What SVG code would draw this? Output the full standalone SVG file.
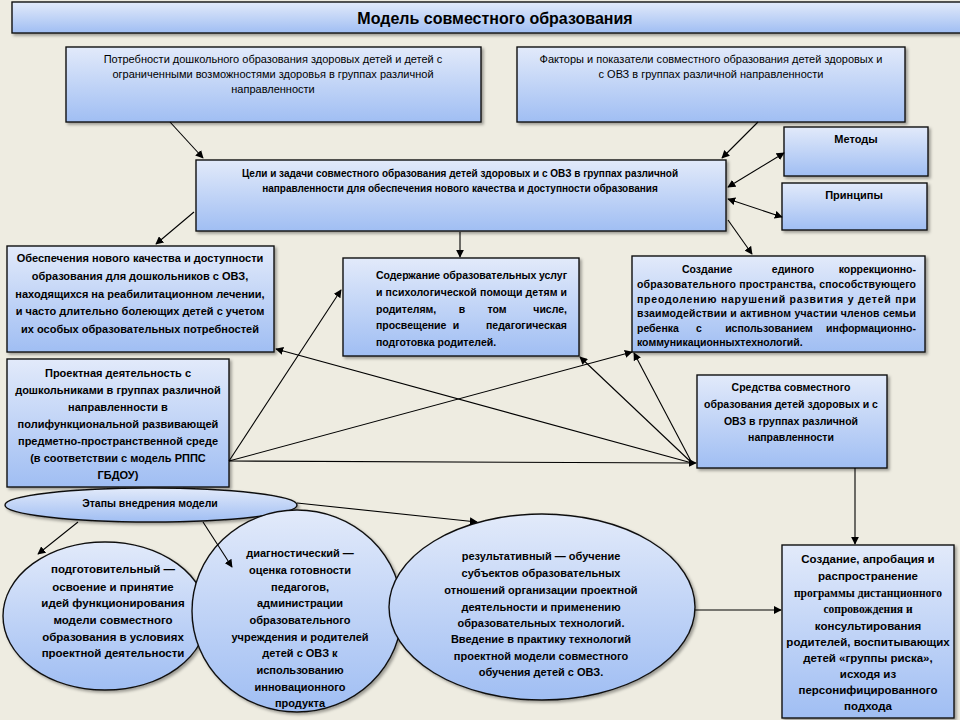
<svg xmlns="http://www.w3.org/2000/svg" width="960" height="720" viewBox="0 0 960 720">
<defs>
<linearGradient id="g" x1="0" y1="0" x2="0" y2="1">
<stop offset="0" stop-color="#e2eafa"/>
<stop offset="1" stop-color="#a0bef3"/>
</linearGradient>
<filter id="sh" x="-10%" y="-10%" width="130%" height="130%">
<feDropShadow dx="2" dy="2" stdDeviation="1.5" flood-color="#000" flood-opacity="0.35"/>
</filter>
<marker id="ah" viewBox="0 0 10 10" refX="9" refY="5" markerWidth="8" markerHeight="8" markerUnits="userSpaceOnUse" orient="auto-start-reverse">
<path d="M0,0 L10,5 L0,10 z" fill="#000"/>
</marker>
<style>
.bx{fill:url(#g);stroke:#111;stroke-width:1.4;filter:url(#sh)}
.t{font-family:"Liberation Sans",Arial,sans-serif;font-weight:bold;font-size:10.5px;fill:#000}
.c{text-anchor:middle}
.e{text-anchor:end}
.m{text-anchor:middle}
.n{font-weight:normal;font-size:11px}
.s{font-family:"Liberation Serif","Times New Roman",serif;font-weight:bold;font-size:11.5px}
.ln{stroke:#000;stroke-width:1.1;fill:none}
.a{marker-end:url(#ah)}
.aa{marker-end:url(#ah);marker-start:url(#ah)}
</style>
</defs>
<rect width="960" height="720" fill="#eeece1"/>

<g id="title">
<rect class="bx" x="12" y="2" width="950" height="31"/>
<text class="t c" x="495" y="24" style="font-size:16px">Модель совместного образования</text>
</g>

<g id="needs">
<rect class="bx" x="66" y="47" width="415" height="75"/>
<text class="t c n" x="273" y="63">Потребности дошкольного образования здоровых детей и детей с</text>
<text class="t c n" x="273" y="78">ограниченными возможностями здоровья в группах различной</text>
<text class="t c n" x="273" y="93">направленности</text>
</g>

<g id="factors">
<rect class="bx" x="517" y="47" width="388" height="75"/>
<text class="t c n" x="711" y="63">Факторы и показатели  совместного образования детей здоровых и</text>
<text class="t c n" x="711" y="78">с ОВЗ  в группах различной направленности</text>
</g>

<g id="goals">
<rect class="bx" x="196" y="160" width="530" height="71"/>
<text class="t c" x="460" y="177" style="font-size:10px">Цели и задачи совместного образования детей здоровых и с ОВЗ в группах различной</text>
<text class="t c" x="460" y="192" style="font-size:10px">направленности для обеспечения нового качества и доступности образования</text>
</g>

<g id="methods">
<rect class="bx" x="784" y="127" width="144" height="49"/>
<text class="t c" x="856" y="143" style="font-size:11px">Методы</text>
</g>

<g id="principles">
<rect class="bx" x="782" y="183" width="145" height="47"/>
<text class="t c" x="854" y="199" style="font-size:11px">Принципы</text>
</g>

<g id="quality">
<rect class="bx" x="7" y="246" width="267" height="106"/>
<text class="t c" x="140" y="262" style="font-size:11px">Обеспечения нового качества и доступности</text>
<text class="t c" x="140" y="280" style="font-size:11px">образования для дошкольников с ОВЗ,</text>
<text class="t c" x="140" y="298" style="font-size:11px">находящихся на реабилитационном лечении,</text>
<text class="t c" x="140" y="315" style="font-size:11px">и часто длительно болеющих детей с учетом</text>
<text class="t c" x="140" y="333" style="font-size:11px">их особых образовательных потребностей</text>
</g>

<g id="content">
<rect class="bx" x="343" y="258" width="236" height="98"/>
<text class="t" x="376" y="279" textLength="191" lengthAdjust="spacing">Содержание образовательных услуг</text>
<text class="t" x="376" y="296" textLength="191" lengthAdjust="spacing">и психологической помощи детям и</text>
<text class="t" x="376" y="313">родителям,</text>
<text class="t m" x="462" y="313">в</text>
<text class="t m" x="497" y="313">том</text>
<text class="t e" x="567" y="313">числе,</text>
<text class="t" x="376" y="329">просвещение</text>
<text class="t m" x="456" y="329">и</text>
<text class="t e" x="567" y="329">педагогическая</text>
<text class="t" x="376" y="346">подготовка родителей.</text>
</g>

<g id="space">
<rect class="bx" x="632" y="256" width="293" height="96"/>
<text class="t" x="682" y="273">Создание</text>
<text class="t m" x="793" y="273">единого</text>
<text class="t e" x="916" y="273">коррекционно-</text>
<text class="t" x="637" y="288" textLength="279" lengthAdjust="spacing">образовательного пространства, способствующего</text>
<text class="t" x="637" y="303" textLength="279" lengthAdjust="spacing">преодолению нарушений развития у детей при</text>
<text class="t" x="637" y="317" textLength="279" lengthAdjust="spacing">взаимодействии и активном участии членов семьи</text>
<text class="t" x="637" y="332">ребенка</text>
<text class="t m" x="699" y="332">с</text>
<text class="t m" x="769" y="332">использованием</text>
<text class="t e" x="916" y="332">информационно-</text>
<text class="t" x="637" y="346">коммуникационныхтехнологий.</text>
</g>

<g id="project">
<rect class="bx" x="7" y="359" width="222" height="128"/>
<text class="t c" x="118" y="377" style="font-size:11px">Проектная деятельность с</text>
<text class="t c" x="118" y="394" style="font-size:11px">дошкольниками в группах различной</text>
<text class="t c" x="118" y="411" style="font-size:11px">направленности в</text>
<text class="t c" x="118" y="428" style="font-size:11px">полифункциональной развивающей</text>
<text class="t c" x="118" y="445" style="font-size:11px">предметно-пространственной среде</text>
<text class="t c" x="118" y="462" style="font-size:11px">(в соответствии с модель РППС</text>
<text class="t c" x="118" y="479" style="font-size:11px">ГБДОУ)</text>
</g>

<g id="means">
<rect class="bx" x="697" y="375" width="190" height="93"/>
<text class="t c" x="791" y="391">Средства  совместного</text>
<text class="t c" x="791" y="408">образования детей здоровых и с</text>
<text class="t c" x="791" y="425">ОВЗ в группах различной</text>
<text class="t c" x="791" y="441">направленности</text>
</g>

<g id="stages">
<ellipse class="bx" cx="151" cy="505" rx="146" ry="17"/>
<text class="t c" x="150" y="507" style="font-size:10.5px">Этапы  внедрения модели</text>
</g>

<g id="stage1">
<ellipse class="bx" cx="105" cy="616" rx="102" ry="74"/>
<text class="t c" x="113" y="573" style="font-size:11.5px">подготовительный —</text>
<text class="t c" x="113" y="591" style="font-size:11.5px">освоение и принятие</text>
<text class="t c" x="113" y="607" style="font-size:11.5px">идей функционирования</text>
<text class="t c" x="113" y="624" style="font-size:11.5px">модели совместного</text>
<text class="t c" x="113" y="641" style="font-size:11.5px">образования  в условиях</text>
<text class="t c" x="113" y="657" style="font-size:11.5px">проектной деятельности</text>
</g>

<g id="stage2">
<ellipse class="bx" cx="297" cy="611" rx="105" ry="101"/>
<text class="t c" x="300" y="557" style="font-size:11px">диагностический —</text>
<text class="t c" x="300" y="574" style="font-size:11px">оценка готовности</text>
<text class="t c" x="300" y="591" style="font-size:11px">педагогов,</text>
<text class="t c" x="300" y="607" style="font-size:11px">администрации</text>
<text class="t c" x="300" y="624" style="font-size:11px">образовательного</text>
<text class="t c" x="300" y="641" style="font-size:11px">учреждения и родителей</text>
<text class="t c" x="300" y="657" style="font-size:11px">детей с ОВЗ к</text>
<text class="t c" x="300" y="674" style="font-size:11px">использованию</text>
<text class="t c" x="300" y="691" style="font-size:11px">инновационного</text>
<text class="t c" x="300" y="707" style="font-size:11px">продукта</text>
</g>

<g id="stage3">
<ellipse class="bx" cx="542" cy="607" rx="153" ry="93"/>
<text class="t c" x="541" y="560" style="font-size:11px">результативный — обучение</text>
<text class="t c" x="541" y="577" style="font-size:11px">субъектов образовательных</text>
<text class="t c" x="541" y="594" style="font-size:11px">отношений организации проектной</text>
<text class="t c" x="541" y="611" style="font-size:11px">деятельности и применению</text>
<text class="t c" x="541" y="627" style="font-size:11px">образовательных технологий.</text>
<text class="t c" x="541" y="643" style="font-size:11px">Введение в практику технологий</text>
<text class="t c" x="541" y="660" style="font-size:11px">проектной модели совместного</text>
<text class="t c" x="541" y="676" style="font-size:11px">обучения детей с ОВЗ.</text>
</g>

<g id="program">
<rect class="bx" x="782" y="545" width="172" height="173"/>
<text class="t c" x="868" y="563" style="font-size:11.5px">Создание, апробация и</text>
<text class="t c" x="868" y="580" style="font-size:11.5px">распространение</text>
<text class="t c s" x="868" y="597">программы  дистанционного</text>
<text class="t c s" x="868" y="613">сопровождения и</text>
<text class="t c" x="868" y="630" style="font-size:11.5px">консультирования</text>
<text class="t c" x="868" y="646" style="font-size:11.5px">родителей, воспитывающих</text>
<text class="t c" x="868" y="662" style="font-size:11.5px">детей «группы риска»,</text>
<text class="t c" x="868" y="678" style="font-size:11.5px">исходя из</text>
<text class="t c" x="868" y="694" style="font-size:11.5px">персонифицированного</text>
<text class="t c" x="868" y="710" style="font-size:11.5px">подхода</text>
</g>

<g id="connectors">
<path class="ln a" d="M170,122 L203,158"/>
<path class="ln a" d="M758,122 L722,158"/>
<path class="ln aa" d="M728,187 L784,153"/>
<path class="ln aa" d="M728,199 L782,217"/>
<path class="ln a" d="M728,220 L752,254"/>
<path class="ln a" d="M460,232 L460,257"/>
<path class="ln a" d="M194,212 L156,244"/>
<path class="ln a" d="M229,461 L341,290"/>
<path class="ln a" d="M229,461 L632,352"/>
<path class="ln a" d="M229,461 L696,463"/>
<path class="ln a" d="M692,463 L276,349"/>
<path class="ln a" d="M692,463 L580,357"/>
<path class="ln a" d="M692,463 L634,353"/>
<path class="ln a" d="M855,468 L855,544"/>
<path class="ln a" d="M78,522 L38,554"/>
<path class="ln a" d="M203,522 L232,567"/>
<path class="ln a" d="M297,503 L477,522"/>
<path class="ln a" d="M695,610 L781,610"/>
</g>
</svg>
